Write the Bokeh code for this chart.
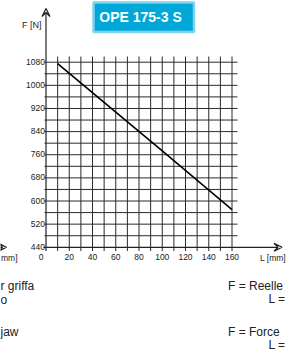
from bokeh.plotting import figure
from bokeh.models import Range1d, Arrow, VeeHead, ColumnDataSource
from bokeh.core.properties import value
from bokeh.embed import file_html
from bokeh.resources import INLINE

# ---- data ----
L_TICKS = [0, 20, 40, 60, 80, 100, 120, 140, 160]
F_TICKS = [440, 520, 600, 680, 760, 840, 920, 1000, 1080]
L_GRID = [10, 20, 30, 40, 50, 60, 70, 80, 90, 100, 110, 120, 130, 140, 150, 160]
F_GRID = [480, 520, 560, 600, 640, 680, 720, 760, 800, 840, 880, 920, 960, 1000, 1040, 1080]
L_VALUES = [10, 100, 160]
F_VALUES = [1075, 773, 570]
TITLE = "OPE 175-3 S"

# ---- pixel <-> data mapping (reference pixel coords) ----
PX_PER_L = 1.1625
L0_PX = 45.5
PX_PER_F = 0.2892
F_TOP_PX = 61.7
OFF = 0  # figure origin in reference pixels


def X(px):
    return (px - L0_PX) / PX_PER_L


def Y(py):
    return 1080 - (py - F_TOP_PX) / PX_PER_F


W, H = 286, 353
p = figure(width=W, height=H, x_range=Range1d(X(OFF), X(OFF + W)), y_range=Range1d(Y(OFF + H), Y(OFF)),
           output_backend="svg", toolbar_location=None, min_border=0,
           x_axis_type=None, y_axis_type=None, outline_line_color=None,
           background_fill_color="white", border_fill_color="white")

FONT = value("Liberation Sans")
GRID_COLOR = "#2a2a2a"
TXT = "#222222"

# grid lines
p.segment(x0=L_GRID, x1=L_GRID, y0=[Y(56)] * len(L_GRID), y1=[Y(250.5)] * len(L_GRID),
          line_color=GRID_COLOR, line_width=1)
p.segment(x0=[X(44)] * len(F_GRID), x1=[X(237)] * len(F_GRID), y0=F_GRID, y1=F_GRID,
          line_color=GRID_COLOR, line_width=1)

# axes with arrow heads
p.add_layout(Arrow(x_start=0, y_start=Y(250.5), x_end=0, y_end=Y(8), line_color=TXT, line_width=1.2,
                   end=VeeHead(size=8, fill_color="white", line_color=TXT, line_width=1.2)))
p.add_layout(Arrow(x_start=X(43), y_start=440, x_end=X(281.5), y_end=440, line_color=TXT, line_width=1.2,
                   end=VeeHead(size=8, fill_color="white", line_color=TXT, line_width=1.2)))
# neighbouring chart's axis arrow tip at the left edge
p.add_layout(Arrow(x_start=X(-10), y_start=440, x_end=X(6), y_end=440, line_color=TXT, line_width=1.2,
                   end=VeeHead(size=8, fill_color="white", line_color=TXT, line_width=1.2)))

# force curve
p.line(L_VALUES, F_VALUES, line_color="black", line_width=1.6)

# tick labels
p.text(x=[X(44.5)] * len(F_TICKS), y=F_TICKS, text=[str(v) for v in F_TICKS],
       text_align="right", text_baseline="alphabetic", y_offset=-0.5,
       text_font=FONT, text_font_size="8.5px", text_color=TXT)
x_off = [-5 if t == 0 else 0 for t in L_TICKS]
src = ColumnDataSource(dict(x=L_TICKS, y=[Y(256)] * len(L_TICKS), t=[str(v) for v in L_TICKS], xo=x_off))
p.text(x="x", y="y", text="t", x_offset="xo", source=src, text_align="center", text_baseline="middle",
       text_font=FONT, text_font_size="8.5px", text_color=TXT)

# axis titles
p.text(x=[X(41)], y=[Y(24)], text=["F [N]"], text_align="right", text_baseline="middle",
       text_font=FONT, text_font_size="9px", text_color=TXT)
p.text(x=[X(285.5)], y=[Y(257.5)], text=["L [mm]"], text_align="right", text_baseline="middle",
       text_font=FONT, text_font_size="8.5px", text_color=TXT)
p.text(x=[X(0.5)], y=[Y(257.5)], text=["mm]"], text_align="left", text_baseline="middle",
       text_font=FONT, text_font_size="8.5px", text_color=TXT)

# title box
p.quad(left=[X(93)], right=[X(193.5)], top=[Y(2)], bottom=[Y(31.5)],
       fill_color="#00a7d7", line_color="#7fd2ee", line_width=2.5)
p.text(x=[X(140)], y=[Y(16)], text=[TITLE], text_align="center", text_baseline="middle",
       text_font=FONT, text_font_size="14px", text_font_style="bold", text_color="white")

# notes at the bottom
p.text(x=[X(0)] * 3, y=[Y(285), Y(299), Y(331)], text=["r griffa", "o", "jaw"], text_align="left",
       text_baseline="middle", text_font=FONT, text_font_size="12px", text_color=TXT)
p.text(x=[X(227.5)] * 2, y=[Y(285), Y(331)], text=["F = Reelle", "F = Force"], text_align="left",
       text_baseline="middle", text_font=FONT, text_font_size="12px", text_color=TXT)
p.text(x=[X(285)] * 2, y=[Y(298), Y(344)], text=["L =", "L ="], text_align="right",
       text_baseline="middle", text_font=FONT, text_font_size="12px", text_color=TXT)

open("out.html", "w").write(file_html(p, INLINE))
